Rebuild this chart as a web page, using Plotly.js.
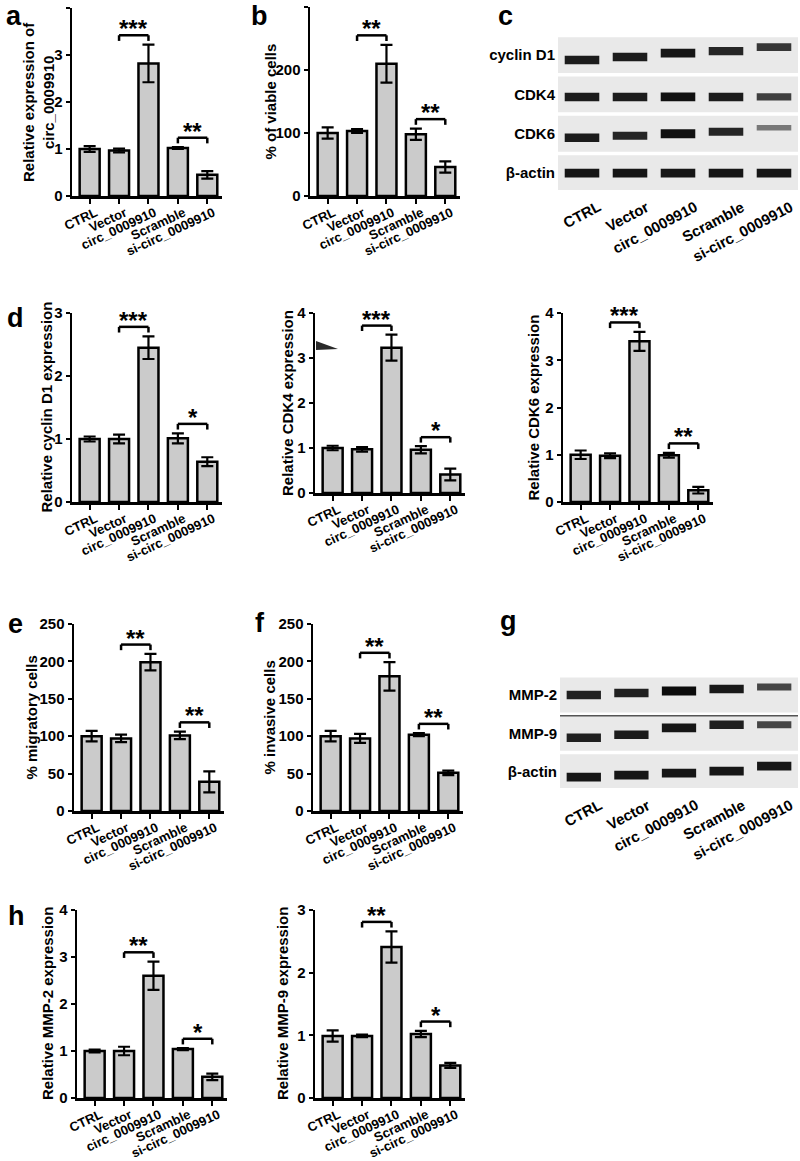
<!DOCTYPE html>
<html><head><meta charset="utf-8">
<script src="https://cdn.plot.ly/plotly-3.0.1.min.js"></script>
<style>html,body{margin:0;padding:0;background:#fff}</style>
</head><body><div id="chart" style="width:800px;height:1161px"></div>
<script>
// ---------- data ----------
const groups = ['CTRL', 'Vector', 'circ_0009910', 'Scramble', 'si-circ_0009910'];

const circExpr = [1.00, 0.97, 2.82, 1.02, 0.45];
const circExprErr = [0.06, 0.04, 0.40, 0.02, 0.08];
const viable = [100, 103, 210, 98, 46];
const viableErr = [9, 3, 30, 9, 9];
const cyclinD1 = [1.00, 1.00, 2.45, 1.01, 0.64];
const cyclinD1Err = [0.04, 0.07, 0.18, 0.08, 0.07];
const cdk4 = [1.00, 0.97, 3.23, 0.96, 0.41];
const cdk4Err = [0.05, 0.05, 0.29, 0.08, 0.13];
const cdk6 = [1.00, 0.98, 3.40, 0.99, 0.25];
const cdk6Err = [0.09, 0.05, 0.20, 0.05, 0.07];
const migratory = [100, 97, 199, 101, 39];
const migratoryErr = [7, 5, 11, 5, 14];
const invasive = [100, 97, 180, 102, 51];
const invasiveErr = [7, 6, 19, 2, 3];
const mmp2 = [1.00, 1.00, 2.60, 1.04, 0.45];
const mmp2Err = [0.03, 0.09, 0.30, 0.02, 0.07];
const mmp9 = [0.99, 0.99, 2.41, 1.02, 0.52];
const mmp9Err = [0.09, 0.02, 0.25, 0.05, 0.04];

// significance: [group i, group j, label]
const sigA = [[1, 2, '***'], [3, 4, '**']];
const sigB = [[1, 2, '**'], [3, 4, '**']];
const sigCyclin = [[1, 2, '***'], [3, 4, '*']];
const sigCdk4 = [[1, 2, '***'], [3, 4, '*']];
const sigCdk6 = [[1, 2, '***'], [3, 4, '**']];
const sigMig = [[1, 2, '**'], [3, 4, '**']];
const sigInv = [[1, 2, '**'], [3, 4, '**']];
const sigMmp2 = [[1, 2, '**'], [3, 4, '*']];
const sigMmp9 = [[1, 2, '**'], [3, 4, '*']];

// western blot band intensities (0..1) per lane
const blotCRows = ['cyclin D1', 'CDK4', 'CDK6', 'β-actin'];
const bandCyclin = [0.90, 0.90, 0.95, 0.85, 0.75];
const bandCdk4 = [0.90, 0.90, 0.97, 0.90, 0.70];
const bandCdk6 = [0.90, 0.85, 0.97, 0.85, 0.35];
const bandActinC = [0.95, 0.95, 0.95, 0.95, 0.95];
const blotGRows = ['MMP-2', 'MMP-9', 'β-actin'];
const bandMmp2 = [0.88, 0.88, 1.00, 0.92, 0.65];
const bandMmp9 = [0.88, 0.90, 0.95, 0.88, 0.65];
const bandActinG = [0.95, 0.95, 0.95, 0.95, 0.95];

// ---------- layout helpers ----------
const F = 'Liberation Sans, Arial, Helvetica, sans-serif';
const W = 800, H = 1161;
const PX = v => v / W, PY = v => 1 - v / H;
const data = [], shapes = [], annotations = [];
const layout = {
  width: W, height: H, margin: {l: 0, r: 0, t: 0, b: 0},
  paper_bgcolor: '#fff', plot_bgcolor: 'rgba(0,0,0,0)',
  showlegend: false, barmode: 'overlay', font: {family: F, color: '#000'}
};

const panels = [
  {v: circExpr, e: circExprErr, sig: sigA, ymax: 4, dtick: 1, title: 'Relative expression of<br>circ_0009910', x: [72, 222], y: [8, 196], tx: 38},
  {v: viable, e: viableErr, sig: sigB, ymax: 300, dtick: 100, title: '% of viable cells', x: [310, 460], y: [7, 196], tx: 270},
  {v: cyclinD1, e: cyclinD1Err, sig: sigCyclin, ymax: 3, dtick: 1, title: 'Relative cyclin D1 expression', x: [72, 222], y: [313, 502], tx: 46},
  {v: cdk4, e: cdk4Err, sig: sigCdk4, ymax: 4, dtick: 1, title: 'Relative CDK4 expression', x: [315, 465], y: [313, 493], tx: 287},
  {v: cdk6, e: cdk6Err, sig: sigCdk6, ymax: 4, dtick: 1, title: 'Relative CDK6 expression', x: [563, 713], y: [313, 502], tx: 533},
  {v: migratory, e: migratoryErr, sig: sigMig, ymax: 250, dtick: 50, title: '% migratory cells', x: [74, 224], y: [624, 811], tx: 31},
  {v: invasive, e: invasiveErr, sig: sigInv, ymax: 250, dtick: 50, title: '% invasive cells', x: [313, 463], y: [624, 811], tx: 269},
  {v: mmp2, e: mmp2Err, sig: sigMmp2, ymax: 4, dtick: 1, title: 'Relative MMP-2 expression', x: [77, 227], y: [910, 1098], tx: 47},
  {v: mmp9, e: mmp9Err, sig: sigMmp9, ymax: 3, dtick: 1, title: 'Relative MMP-9 expression', x: [315, 465], y: [910, 1098], tx: 282}
];

const axName = (p, k) => p + (k === 1 ? '' : k);

panels.forEach((p, idx) => {
  const k = idx + 1, xa = axName('x', k), ya = axName('y', k);
  data.push({
    type: 'bar', x: groups, y: p.v, xaxis: xa, yaxis: ya, width: 0.68,
    marker: {color: '#cbcbcb', line: {color: '#000', width: 2.5}},
    error_y: {type: 'data', array: p.e, visible: true, color: '#000', thickness: 2.2, width: 6},
    hoverinfo: 'skip'
  });
  layout[axName('xaxis', k)] = {
    domain: [PX(p.x[0]), PX(p.x[1])], anchor: ya, type: 'category',
    range: [-0.6, 4.5], showline: true, linewidth: 2.5, linecolor: '#000',
    ticks: 'outside', ticklen: 5, tickwidth: 2, tickcolor: '#000',
    tickangle: -25, ticklabelshift: 6, ticklabelstandoff: -3,
    tickfont: {family: F, size: 13, weight: 'bold', color: '#000'},
    showgrid: false, zeroline: false, fixedrange: true
  };
  layout[axName('yaxis', k)] = {
    domain: [PY(p.y[1]), PY(p.y[0])], anchor: xa,
    range: [0, p.ymax], dtick: p.dtick, tick0: 0, showline: true, linewidth: 2.5, linecolor: '#000',
    ticks: 'outside', ticklen: 4, tickwidth: 2, tickcolor: '#000',
    tickfont: {family: F, size: 15, weight: 'bold', color: '#000'},
    showgrid: false, zeroline: false, fixedrange: true
  };
  p.sig.forEach(s => {
    const i = s[0], j = s[1];
    const top = Math.max(p.v[i] + p.e[i], p.v[j] + p.e[j]);
    const yb = top + 0.05 * p.ymax, drop = 0.03 * p.ymax;
    const ln = {color: '#000', width: 2.5};
    shapes.push({type: 'line', xref: xa, yref: ya, x0: i, x1: j, y0: yb, y1: yb, line: ln});
    shapes.push({type: 'line', xref: xa, yref: ya, x0: i, x1: i, y0: yb - drop, y1: yb, line: ln});
    shapes.push({type: 'line', xref: xa, yref: ya, x0: j, x1: j, y0: yb - drop, y1: yb, line: ln});
    annotations.push({xref: xa, yref: ya, x: (i + j) / 2, y: yb, text: s[2], showarrow: false,
      yanchor: 'bottom', xanchor: 'center', yshift: -9, font: {family: F, size: 24, weight: 'bold'}});
  });
  annotations.push({xref: 'paper', yref: 'paper', x: PX(p.tx), y: PY((p.y[0] + p.y[1]) / 2),
    text: p.title, textangle: -90, showarrow: false, xanchor: 'center', yanchor: 'middle',
    font: {family: F, size: 15, weight: 'bold'}});
});

// ---------- western blots ----------
const blots = [
  {rows: blotCRows, bands: [bandCyclin, bandCdk4, bandCdk6, bandActinC],
   shiftPx: [[5, 2, -2, -4, -8], [2.5, 2.5, 2.5, 2.5, 2.5], [4, 2, 0, -2, -6], [0, 0, 0, 0, 0]],
   x: [558, 798], y: [37, 190], rowPx: 39.3, range: [3.43, -0.46], sep: false},
  {rows: blotGRows, bands: [bandMmp2, bandMmp9, bandActinG],
   shiftPx: [[0, -2, -4, -6, -8], [4.5, 1.5, -5.5, -8.5, -8.5], [5.5, 3.5, 1.5, -0.5, -5.5]],
   x: [560, 798], y: [677, 788], rowPx: 38.3, range: [2.43, -0.47], sep: true}
];
const lanes = [1, 2, 3, 4, 5];

blots.forEach((b, bi) => {
  const k = panels.length + 1 + bi, xa = axName('x', k), ya = axName('y', k);
  layout[axName('xaxis', k)] = {
    domain: [PX(b.x[0]), PX(b.x[1])], anchor: ya, range: [0.5, 5.5],
    showticklabels: false, ticks: '', showline: false,
    showgrid: false, zeroline: false, fixedrange: true
  };
  layout[axName('yaxis', k)] = {
    domain: [PY(b.y[1]), PY(b.y[0])], anchor: xa, range: b.range,
    tickvals: b.rows.map((r, i) => i), ticktext: b.rows, ticks: '', showline: false,
    showgrid: false, zeroline: false, ticklabelstandoff: 2,
    tickfont: {family: F, size: 15, weight: 'bold', color: '#000'}, fixedrange: true
  };
  // lane labels under the blot
  groups.forEach((g, li) => annotations.push({xref: xa, yref: 'paper', x: lanes[li], y: PY(b.y[1]),
    text: g, textangle: -28, showarrow: false, xanchor: 'right', yanchor: 'top',
    xshift: 24, yshift: -5, font: {family: F, size: 15, weight: 'bold'}}));
  b.rows.forEach((r, ri) => {
    shapes.push({type: 'rect', xref: xa, yref: ya, x0: 0.5, x1: 5.5, y0: ri - 0.455, y1: ri + 0.455,
      fillcolor: '#e9e9e9', line: {width: 0}, layer: 'below'});
    const inten = b.bands[ri];
    const h = inten.map(t => (3.5 + 5.5 * t) / b.rowPx);
    const base = inten.map((t, li) => ri + b.shiftPx[ri][li] / b.rowPx - h[li] / 2);
    data.push({
      type: 'bar', x: lanes, y: h, base: base, width: 0.72, xaxis: xa, yaxis: ya,
      marker: {color: inten.map(t => 'rgba(12,12,12,' + (0.25 + 0.75 * t).toFixed(2) + ')'), line: {width: 0}},
      hoverinfo: 'skip'
    });
  });
  if (b.sep) {
    shapes.push({type: 'line', xref: xa, yref: ya, x0: 0.5, x1: 5.5, y0: 0.545, y1: 0.545,
      line: {color: '#555', width: 1.5}});
  }
});

// stray dark flag artifact in the CDK4 panel
shapes.push({type: 'path', xref: 'paper', yref: 'paper',
  path: `M ${PX(316)},${PY(341)} L ${PX(338)},${PY(349)} L ${PX(316)},${PY(350)} Z`,
  fillcolor: '#2a2a2a', line: {width: 0}});

// panel letters
const letters = [['a', 14, 16], ['b', 259, 16], ['c', 505, 16], ['d', 15, 318], ['e', 15, 624],
                 ['f', 260, 623], ['g', 508, 621], ['h', 16, 916]];
letters.forEach(l => annotations.push({xref: 'paper', yref: 'paper', x: PX(l[1]), y: PY(l[2]),
  text: l[0], showarrow: false, xanchor: 'center', yanchor: 'middle',
  font: {family: F, size: 27, weight: 'bold'}}));

layout.shapes = shapes;
layout.annotations = annotations;
Plotly.newPlot('chart', data, layout, {staticPlot: true, displayModeBar: false});
</script>
</body></html>
